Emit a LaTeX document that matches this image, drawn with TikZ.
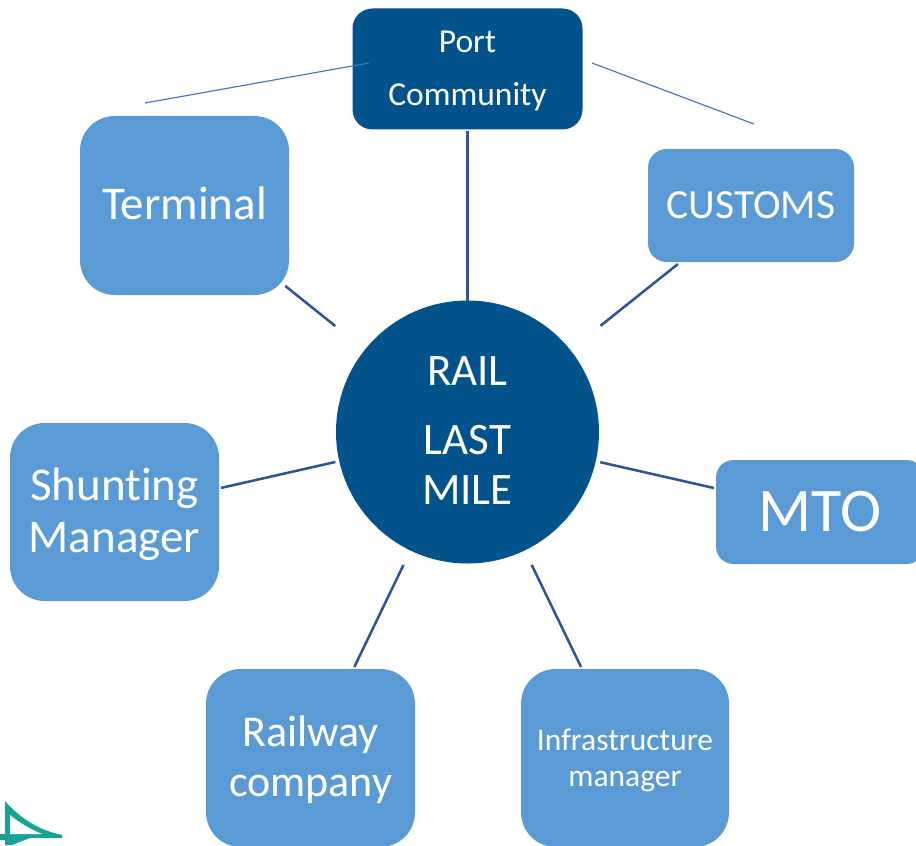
\documentclass[tikz,border=0pt]{standalone}
\usepackage{fontspec}
\setmainfont{Carlito}[Ligatures=NoCommon]
\definecolor{darkblue}{HTML}{02528C}
\definecolor{lightblue}{HTML}{5B9BD5}
\definecolor{linkblue}{HTML}{2F5597}
\definecolor{thinblue}{HTML}{4472C4}
\definecolor{logoteal}{HTML}{17A398}
\newcommand{\pxfont}[2]{\fontsize{\dimexpr #1pt*3/4\relax}{\dimexpr #2pt*3/4\relax}\selectfont}
\tikzset{
  boxnode/.style={fill=lightblue,inner sep=0pt,outer sep=1.5pt},
  portnode/.style={fill=darkblue,inner sep=0pt,outer sep=1.5pt,rounded corners=15pt,minimum width=172.5pt,minimum height=90.75pt},
  hub/.style={circle,fill=darkblue,inner sep=0pt,outer sep=0pt,minimum size=197.25pt},
  txt/.style={text=white,align=center,inner sep=0pt,outer sep=0pt},
  link/.style={draw=linkblue,line width=1.9pt},
  thinlink/.style={draw=thinblue,line width=0.85pt}
}
\begin{document}
\begin{tikzpicture}[x=0.75pt,y=-0.75pt]
\useasboundingbox (0,0) rectangle (916,845);
\clip (0,0) rectangle (916,845);
% nodes
\node[hub,label={[txt,font=\pxfont{45}{50},yshift=1pt]center:RAIL\\[14.5pt]LAST\\MILE}] (rail) at (467.5,432) {};
\node[portnode,label={[txt,font=\pxfont{33.5}{40},yshift=-1.5pt]center:Port\\[10pt]Community}] (port) at (467.5,69) {};
\node[boxnode,rounded corners=26pt,minimum width=156.75pt,minimum height=134.25pt,label={[txt,font=\pxfont{47}{50},yshift=1.5pt]center:Terminal}] (terminal) at (184.5,205.5) {};
\node[boxnode,rounded corners=14pt,minimum width=154.5pt,minimum height=84.75pt,label={[txt,font=\pxfont{41.5}{50}]center:CUSTOMS}] (customs) at (751,205.5) {};
\node[boxnode,rounded corners=13pt,minimum width=156pt,minimum height=78pt,label={[txt,font=\pxfont{62}{66}]center:MTO}] (mto) at (820,512) {};
\node[boxnode,rounded corners=26pt,minimum width=156.75pt,minimum height=133.5pt,label={[txt,font=\pxfont{47}{52},yshift=-1.5pt]center:Shunting\\Manager}] (shunting) at (114.5,512) {};
\node[boxnode,rounded corners=26pt,minimum width=156.75pt,minimum height=133.5pt,label={[txt,font=\pxfont{44}{50},yshift=-1.5pt]center:Railway\\company}] (railway) at (310.5,758) {};
\node[boxnode,rounded corners=26pt,minimum width=156pt,minimum height=133.5pt,label={[txt,font=\pxfont{31.5}{36},yshift=-1.5pt]center:Infrastructure\\manager}] (infra) at (625,758) {};
% connectors
\draw[link] (rail) -- (port);
\draw[link,shorten <=28.5pt,shorten >=-5.5pt] (rail) -- (terminal);
\draw[link,shorten <=29pt] (rail) -- (customs);
\draw[link,shorten <=3.5pt] (rail) -- (mto);
\draw[link,shorten <=3pt] (rail) -- (shunting);
\draw[link,shorten <=12pt] (rail) -- (railway);
\draw[link,shorten <=12pt] (rail) -- (infra);
% thin lines
\coordinate (tl1) at (145,103);
\coordinate (tl2) at (369,63);
\coordinate (tr1) at (592,63);
\coordinate (tr2) at (754,124);
\draw[thinlink] (tl1) -- (tl2);
\draw[thinlink] (tr1) -- (tr2);
% logo
\fill[logoteal] (5,801) .. controls (20,818) and (38,830) .. (62,835) -- (62,838) -- (30,838) -- (12,845) -- (5,845) -- (5,840) -- (0,840) -- (0,834) -- (5,834) -- cycle;
\fill[white] (10,815) .. controls (18,822) and (30,829) .. (42,834) -- (10,834) -- cycle;
\end{tikzpicture}
\end{document}
